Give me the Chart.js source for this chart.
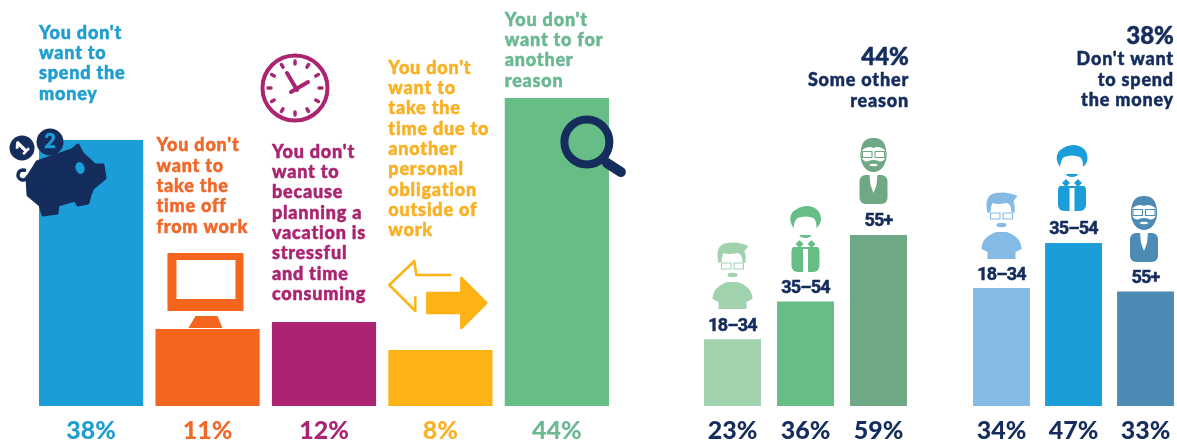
<!DOCTYPE html>
<html>
<head>
<meta charset="utf-8">
<title>Reasons for not taking a vacation</title>
<script src="https://cdn.jsdelivr.net/npm/chart.js@4"></script>
<style>
  html, body { margin: 0; width: 1177px; height: 444px; overflow: hidden; background: #fff; }
  canvas { position: absolute; top: 0; }
</style>
</head>
<body>
<canvas id="reasons" style="left:0"></canvas>
<canvas id="other" style="left:680px"></canvas>
<canvas id="money" style="left:950px"></canvas>
<script>
const NAVY = '#152d5c';
const TEXT_FONT = 'Lato, sans-serif';
const AGE_FONT = 'Roboto, sans-serif';

// All respondents
const reasonLabels = ['Spend the money', 'Time off from work', 'Planning is stressful', 'Personal obligation', 'Another reason'];
const reasonValues = [38, 11, 12, 8, 44];
const reasonColors = ['#1b9dd9', '#f4661e', '#ab2471', '#fdb316', '#66bd85'];
const reasonTextColors = ['#1f9ecf', '#f0682a', '#ab2471', '#f9b125', '#6bb892'];
const reasonCaptions = [
  ["You don't", 'want to', 'spend the', 'money'],
  ["You don't", 'want to', 'take the', 'time off', 'from work'],
  ["You don't", 'want to', 'because', 'planning a', 'vacation is', 'stressful', 'and time', 'consuming'],
  ["You don't", 'want to', 'take the', 'time due to', 'another', 'personal', 'obligation', 'outside of', 'work'],
  ["You don't", 'want to for', 'another', 'reason']
];
const captionFirstLine = [33, 145.5, 152, 68, 20];

// By age
const ageLabels = ['18–34', '35–54', '55+'];
const otherValues = [23, 36, 59];
const otherColors = ['#a1d2ae', '#66bd85', '#6fa884'];
const moneyValues = [34, 47, 33];
const moneyColors = ['#84bae3', '#1b9dd9', '#4d8bb5'];
const otherHeading = ['44%', 'Some other', 'reason'];
const moneyHeading = ['38%', "Don't want", 'to spend', 'the money'];

// Pig outline, relative to the top left corner of its bar
const pigOutline = [
  [-12, 38], [-2, 22], [18, 15], [33, 10], [39, 5], [43, 13], [56, 25], [64, 25], [66, 38],
  [54, 48], [51, 55], [49, 63], [39, 65], [36, 60], [19, 65], [18, 73], [4, 75], [1, 65], [-11, 55]
];

// Heavy lettering: the installed faces are lighter than the poster type
function text(ctx, str, x, y, font, color, align, spacing) {
  ctx.font = font;
  ctx.fillStyle = color;
  ctx.strokeStyle = color;
  ctx.lineWidth = 0.5;
  ctx.lineJoin = 'round';
  ctx.textAlign = align || 'left';
  ctx.textBaseline = 'middle';
  ctx.letterSpacing = (spacing || 0) + 'px';
  ctx.fillText(str, x, y);
  ctx.strokeText(str, x, y);
  ctx.letterSpacing = '0px';
}

function circle(ctx, x, y, r) {
  ctx.beginPath();
  ctx.arc(x, y, r, 0, Math.PI * 2);
  ctx.fill();
}

function drawPig(ctx, x0, y0, coinColor) {
  ctx.save();
  ctx.translate(x0, y0);
  ctx.fillStyle = NAVY;
  ctx.strokeStyle = NAVY;
  ctx.lineJoin = 'round';
  ctx.lineWidth = 3;
  ctx.beginPath();
  pigOutline.forEach(([x, y], i) => (i ? ctx.lineTo(x, y) : ctx.moveTo(x, y)));
  ctx.closePath();
  ctx.fill();
  ctx.stroke();
  ctx.lineWidth = 3.5;
  ctx.lineCap = 'round';
  ctx.beginPath();
  ctx.arc(-16, 35, 5, Math.PI * 0.1, Math.PI * 1.6);
  ctx.stroke();
  ctx.fillStyle = coinColor;
  ctx.beginPath();
  ctx.ellipse(41, 28, 4.5, 6, -0.3, 0, Math.PI * 2);
  ctx.fill();
  ctx.fillStyle = NAVY;
  circle(ctx, -17, 8, 12.5);
  circle(ctx, 11, 2, 13.5);
  text(ctx, '2', 11, 2, '900 20px ' + TEXT_FONT, coinColor, 'center');
  ctx.translate(-17, 8);
  ctx.rotate(-0.8);
  text(ctx, '1', 0, 0, '900 19px ' + TEXT_FONT, '#fff', 'center');
  ctx.restore();
}

function drawMonitor(ctx, x0, y0, color) {
  ctx.save();
  ctx.translate(x0, y0);
  ctx.fillStyle = color;
  ctx.fillRect(12, -76, 76, 58);
  ctx.fillStyle = '#fff';
  ctx.fillRect(21, -69, 59, 39);
  ctx.fillStyle = color;
  ctx.beginPath();
  ctx.moveTo(40, -13);
  ctx.lineTo(62, -13);
  ctx.lineTo(67, -1);
  ctx.lineTo(33, -1);
  ctx.closePath();
  ctx.fill();
  ctx.restore();
}

function drawClock(ctx, cx, cy, color) {
  ctx.save();
  ctx.translate(cx, cy);
  ctx.strokeStyle = color;
  ctx.lineCap = 'round';
  ctx.lineWidth = 4;
  ctx.beginPath();
  ctx.arc(0, 0, 32.5, 0, Math.PI * 2);
  ctx.stroke();
  for (let h = 0; h < 12; h++) {
    const a = h * Math.PI / 6;
    ctx.lineWidth = 3.5;
    ctx.beginPath();
    ctx.moveTo(Math.cos(a) * 24, Math.sin(a) * 24);
    ctx.lineTo(Math.cos(a) * 27, Math.sin(a) * 27);
    ctx.stroke();
  }
  ctx.lineWidth = 4;
  ctx.beginPath();
  ctx.moveTo(-8, -15);
  ctx.lineTo(2, 2);
  ctx.moveTo(-4, 4);
  ctx.lineTo(13, -6);
  ctx.stroke();
  ctx.restore();
}

function drawArrows(ctx, x0, y0, color) {
  ctx.save();
  ctx.translate(x0, y0);
  ctx.strokeStyle = color;
  ctx.fillStyle = color;
  ctx.lineWidth = 2.5;
  ctx.lineJoin = 'round';
  ctx.lineCap = 'round';
  // outlined arrow pointing left
  ctx.beginPath();
  ctx.moveTo(62, -75);
  ctx.lineTo(28, -75);
  ctx.lineTo(26, -89);
  ctx.lineTo(1, -65);
  ctx.lineTo(27, -39);
  ctx.lineTo(27, -53);
  ctx.stroke();
  // solid arrow pointing right
  ctx.beginPath();
  ctx.moveTo(39, -57);
  ctx.lineTo(73, -57);
  ctx.lineTo(73, -72);
  ctx.lineTo(98, -47);
  ctx.lineTo(73, -22);
  ctx.lineTo(73, -37);
  ctx.lineTo(39, -37);
  ctx.closePath();
  ctx.fill();
  ctx.stroke();
  ctx.restore();
}

function drawMagnifier(ctx, cx, cy) {
  ctx.save();
  ctx.strokeStyle = NAVY;
  ctx.lineCap = 'round';
  ctx.lineWidth = 8;
  ctx.beginPath();
  ctx.arc(cx, cy, 22.5, 0, Math.PI * 2);
  ctx.stroke();
  ctx.lineWidth = 10;
  ctx.beginPath();
  ctx.moveTo(cx + 20, cy + 21);
  ctx.lineTo(cx + 34, cy + 30);
  ctx.stroke();
  ctx.restore();
}

function roundBody(ctx, x, y, w, h, r) {
  ctx.beginPath();
  ctx.roundRect(x, y, w, h, r);
  ctx.fill();
}

function drawGlasses(ctx, y, color) {
  ctx.strokeStyle = color;
  ctx.lineWidth = 1.1;
  ctx.strokeRect(-11, y, 9.5, 6);
  ctx.strokeRect(1.5, y, 9.5, 6);
}

// 18-34: quiff, glasses, goatee and a round-shouldered tee. (cx, cy) is the middle of the face
function drawYoung(ctx, cx, cy, color) {
  ctx.save();
  ctx.translate(cx, cy);
  ctx.fillStyle = color;
  ctx.beginPath();
  ctx.moveTo(-14, 0);
  ctx.quadraticCurveTo(-18, -18, -6, -20);
  ctx.quadraticCurveTo(6, -22, 16, -17);
  ctx.lineTo(12, -12);
  ctx.quadraticCurveTo(14, -6, 13, 0);
  ctx.lineTo(10, -1);
  ctx.quadraticCurveTo(10, -9, 5, -10);
  ctx.quadraticCurveTo(-4, -8, -9, -10);
  ctx.quadraticCurveTo(-11, -6, -11, -1);
  ctx.closePath();
  ctx.fill();
  drawGlasses(ctx, 0, color);
  ctx.beginPath();
  ctx.ellipse(0, 12, 5, 2.2, 0, 0, Math.PI * 2);
  ctx.fill();
  // shirt
  ctx.beginPath();
  ctx.moveTo(-5, 19);
  ctx.lineTo(5, 19);
  ctx.quadraticCurveTo(20, 24, 20, 36);
  ctx.lineTo(14, 39);
  ctx.lineTo(14, 46);
  ctx.lineTo(-14, 46);
  ctx.lineTo(-14, 39);
  ctx.lineTo(-20, 36);
  ctx.quadraticCurveTo(-20, 24, -5, 19);
  ctx.fill();
  ctx.restore();
}

// 35-54: side-parted hair, goatee, shirt and tie
function drawMiddle(ctx, cx, cy, color) {
  ctx.save();
  ctx.translate(cx, cy);
  ctx.fillStyle = color;
  ctx.beginPath();
  ctx.moveTo(-12, 5);
  ctx.quadraticCurveTo(-18, -4, -13, -11);
  ctx.quadraticCurveTo(-5, -18, 3, -17);
  ctx.quadraticCurveTo(15, -15, 15.5, -4);
  ctx.quadraticCurveTo(15.5, 1, 11, 5);
  ctx.quadraticCurveTo(11, -3, 8, -5);
  ctx.quadraticCurveTo(0, -8, -8, -5);
  ctx.quadraticCurveTo(-11, -3, -12, 5);
  ctx.fill();
  ctx.beginPath();
  ctx.ellipse(0, 12, 6, 3, 0, 0, Math.PI);
  ctx.fill();
  roundBody(ctx, -14, 22, 28, 27, 6);
  ctx.fillStyle = '#fff';
  ctx.fillRect(-2.5, 26, 5, 23);
  ctx.fillRect(-14, 18, 28, 6);
  ctx.fillStyle = color;
  ctx.beginPath();
  ctx.moveTo(-10, 21);
  ctx.lineTo(-6, 17);
  ctx.lineTo(-2, 21);
  ctx.lineTo(-6, 25);
  ctx.closePath();
  ctx.moveTo(10, 21);
  ctx.lineTo(6, 17);
  ctx.lineTo(2, 21);
  ctx.lineTo(6, 25);
  ctx.closePath();
  ctx.fill();
  ctx.restore();
}

// 55+: hair, glasses, full beard and a dark jacket
function drawSenior(ctx, cx, cy, color) {
  ctx.save();
  ctx.translate(cx, cy);
  ctx.fillStyle = color;
  ctx.strokeStyle = color;
  ctx.lineWidth = 1.3;
  ctx.beginPath();
  ctx.ellipse(0, 0, 12.5, 16, 0, 0, Math.PI * 2);
  ctx.stroke();
  ctx.beginPath();
  ctx.moveTo(-12.5, -4);
  ctx.quadraticCurveTo(-12, -17, 0, -17);
  ctx.quadraticCurveTo(12, -17, 12.5, -4);
  ctx.quadraticCurveTo(6, -10, 0, -7);
  ctx.quadraticCurveTo(-6, -10, -12.5, -4);
  ctx.fill();
  // beard
  ctx.beginPath();
  ctx.moveTo(-12.5, 2);
  ctx.quadraticCurveTo(-11, 16, 0, 17);
  ctx.quadraticCurveTo(11, 16, 12.5, 2);
  ctx.quadraticCurveTo(9, 8, 5, 6);
  ctx.quadraticCurveTo(0, 4, -5, 6);
  ctx.quadraticCurveTo(-9, 8, -12.5, 2);
  ctx.fill();
  ctx.fillStyle = '#fff';
  ctx.beginPath();
  ctx.ellipse(0, 10, 4, 1.2, 0, 0, Math.PI * 2);
  ctx.fill();
  drawGlasses(ctx, -3.5, color);
  ctx.fillStyle = color;
  roundBody(ctx, -14, 20, 28, 29, 6);
  ctx.fillStyle = '#fff';
  ctx.beginPath();
  ctx.moveTo(-4, 20);
  ctx.lineTo(4, 20);
  ctx.lineTo(3, 30);
  ctx.lineTo(0, 38);
  ctx.lineTo(-3, 30);
  ctx.closePath();
  ctx.fill();
  ctx.restore();
}

const personIcons = [drawYoung, drawMiddle, drawSenior];

// Captions and pictograms over the five reason bars
const reasonOverlay = {
  id: 'reasonOverlay',
  afterDatasetsDraw(chart) {
    const ctx = chart.ctx;
    const bars = chart.getDatasetMeta(0).data;
    const left = i => bars[i].x - bars[i].width / 2;
    bars.forEach((bar, i) => {
      reasonCaptions[i].forEach((line, n) => {
        text(ctx, line, left(i) + (i === 1 ? 1 : 0), captionFirstLine[i] + n * 20.3, '900 18px ' + TEXT_FONT, reasonTextColors[i], 'left', 0.8);
      });
    });
    drawPig(ctx, left(0), bars[0].y, reasonColors[0]);
    drawMonitor(ctx, left(1), bars[1].y, reasonColors[1]);
    drawClock(ctx, bars[2].x - 29, 88, reasonColors[2]);
    drawArrows(ctx, left(3), bars[3].y, reasonColors[3]);
    drawMagnifier(ctx, bars[4].x + 30, bars[4].y + 44);
  }
};

// Age label, person and heading for one age panel
function agePanel(id, heading, colors, iconX, iconY, headingRight, firstHeadingY) {
  return {
    id,
    afterDatasetsDraw(chart) {
      const ctx = chart.ctx;
      const bars = chart.getDatasetMeta(0).data;
      bars.forEach((bar, i) => {
        text(ctx, ageLabels[i], bar.x, bar.y - 13, '700 18px ' + AGE_FONT, NAVY, 'center', -0.8);
        personIcons[i](ctx, bar.x + iconX[i], iconY[i], colors[i]);
      });
      const right = bars[2].x + bars[2].width / 2 + headingRight;
      text(ctx, heading[0], right, firstHeadingY, '900 24px ' + TEXT_FONT, NAVY, 'right');
      heading.slice(1).forEach((line, n) => {
        text(ctx, line, right, firstHeadingY + 23 + n * 20.7, '900 18px ' + TEXT_FONT, NAVY, 'right', 0.8);
      });
    }
  };
}

function barChart(canvasId, width, labels, values, colors, yMax, barShare, padLeft, padRight, tickColors, overlay) {
  const canvas = document.getElementById(canvasId);
  canvas.width = width;
  canvas.height = 444;
  return new Chart(canvas, {
    type: 'bar',
    data: {
      labels,
      datasets: [{ data: values, backgroundColor: colors, barPercentage: barShare, categoryPercentage: 1 }]
    },
    options: {
      responsive: false,
      animation: false,
      layout: { padding: { left: padLeft, right: padRight, top: 0, bottom: 0 } },
      plugins: { legend: { display: false }, tooltip: { enabled: false } },
      scales: {
        x: {
          border: { display: false },
          grid: { display: false },
          afterFit: scale => { scale.height = 38; },
          ticks: {
            autoSkip: false,
            maxRotation: 0,
            padding: 2,
            font: { family: TEXT_FONT, weight: '900', size: 25 },
            color: c => tickColors[c.index],
            callback: (v, i) => values[i] + '%'
          }
        },
        y: { display: false, min: 0, max: yMax }
      }
    },
    plugins: [overlay]
  });
}

barChart('reasons', 650, reasonLabels, reasonValues, reasonColors, 58, 0.895, 32.9, 34.9, reasonTextColors, reasonOverlay);
barChart('other', 250, ageLabels, otherValues, otherColors, 140, 0.78, 16, 15, [NAVY, NAVY, NAVY],
  agePanel('otherOverlay', otherHeading, otherColors, [0, 0, -5], [263, 223, 155], 2, 57));
barChart('money', 240, ageLabels, moneyValues, moneyColors, 117, 0.79, 15.5, 8.5, [NAVY, NAVY, NAVY],
  agePanel('moneyOverlay', moneyHeading, moneyColors, [0, -1.5, -1.5], [213, 162, 213], 0, 36));
</script>
</body>
</html>
